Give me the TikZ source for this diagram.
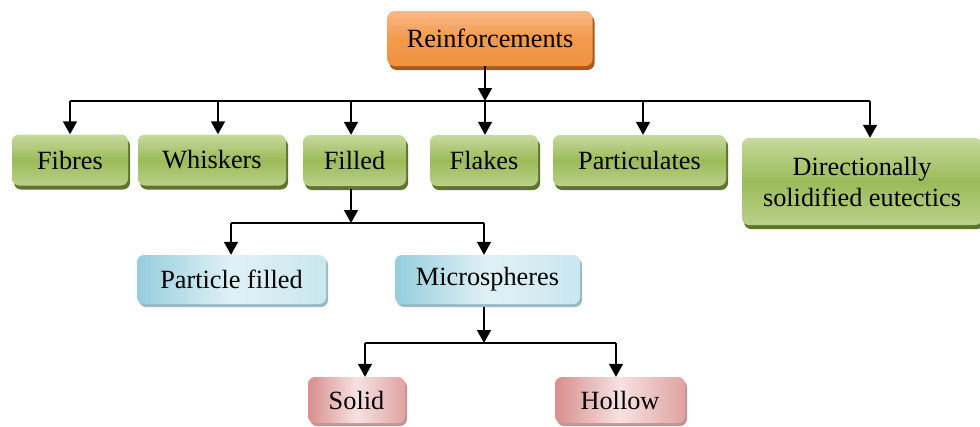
\documentclass[tikz,border=0pt]{standalone}
\usepackage{fontspec}
\setmainfont{Liberation Serif}
\usetikzlibrary{arrows.meta,shadows}
\definecolor{orA}{HTML}{F0923E}
\definecolor{orB}{HTML}{FAB888}
\definecolor{orS}{HTML}{A85A1E}
\definecolor{grA}{HTML}{9BBB59}
\definecolor{grB}{HTML}{C6DA9E}
\definecolor{grS}{HTML}{5E7530}
\definecolor{blA}{HTML}{96CEDD}
\definecolor{blB}{HTML}{E0F1F6}
\definecolor{blS}{HTML}{7FA9B6}
\definecolor{pkA}{HTML}{D88E8C}
\definecolor{pkB}{HTML}{F6E2E1}
\definecolor{pkS}{HTML}{B07A78}
\tikzset{
  box/.style={rounded corners=7pt, inner sep=0pt, align=center, text=black,
    font=\fontsize{26.3}{31}\selectfont},
  orbox/.style={box, top color=orB, bottom color=orA, middle color=orA!80!orB,
    drop shadow={shadow xshift=2pt, shadow yshift=-4pt, fill=orS, opacity=1}},
  grbox/.style={box, top color=grB, bottom color=grB!70!grA, middle color=grA,
    drop shadow={shadow xshift=2pt, shadow yshift=-4pt, fill=grS, opacity=1}},
  blbox/.style={box, left color=blA, right color=blB!70!blA, middle color=blB,
    drop shadow={shadow xshift=2pt, shadow yshift=-3pt, fill=blS, opacity=0.8}},
  pkbox/.style={box, left color=pkA, right color=pkA!75!pkB, middle color=pkB,
    drop shadow={shadow xshift=2pt, shadow yshift=-3pt, fill=pkS, opacity=0.8}},
  conn/.style={line width=1.5pt, black},
  arr/.style={conn, -{Triangle[width=14pt,length=13pt]}}
}
\begin{document}
\begin{tikzpicture}[x=1pt,y=-1pt]
\useasboundingbox (0,0) rectangle (980,426);
% nodes
\node[orbox, minimum width=205pt, minimum height=55pt] (reinf) at (490,38.5) {Reinforcements};
\node[grbox, minimum width=116pt, minimum height=51pt] (fibres) at (70,160) {Fibres};
\node[grbox, minimum width=148pt, minimum height=51pt] (whiskers) at (212,160) {Whiskers};
\node[grbox, minimum width=103pt, minimum height=51pt] (filled) at (354.5,160.5) {Filled};
\node[grbox, minimum width=108pt, minimum height=51pt] (flakes) at (484,160.5) {Flakes};
\node[grbox, minimum width=173pt, minimum height=51pt] (partic) at (639.5,160.5) {Particulates};
\node[grbox, minimum width=240pt, minimum height=87pt] (dir) at (862,181.5) {Directionally\\solidified eutectics};
\node[blbox, minimum width=189pt, minimum height=49pt] (pfilled) at (231.5,279.5) {Particle filled};
\node[blbox, minimum width=185pt, minimum height=49pt] (micro) at (487.5,279.5) {Microspheres};
\node[pkbox, minimum width=97pt, minimum height=46pt] (solid) at (356.5,400) {Solid};
\node[pkbox, minimum width=130pt, minimum height=46pt] (hollow) at (620,400) {Hollow};
% bus coordinates
\coordinate (b0) at (485,101);
\coordinate (bL) at (70,101);
\coordinate (bR) at (870,101);
\coordinate (a1) at (70,101);
\coordinate (a2) at (218,101);
\coordinate (a3) at (351,101);
\coordinate (a4) at (485,101);
\coordinate (a5) at (643,101);
\coordinate (a6) at (870,101);
\coordinate (c0) at (351,223);
\coordinate (cL) at (231,223);
\coordinate (cR) at (484,223);
\coordinate (d0) at (484,343);
\coordinate (dL) at (365,343);
\coordinate (dR) at (616,343);
% connectors
\draw[arr] (b0 |- reinf.south) -- (b0);
\draw[conn] (bL) -- (bR);
\draw[arr] (a1) -- (a1 |- fibres.north);
\draw[arr] (a2) -- (a2 |- whiskers.north);
\draw[arr] (a3) -- (a3 |- filled.north);
\draw[arr] (a4) -- (a4 |- flakes.north);
\draw[arr] (a5) -- (a5 |- partic.north);
\draw[arr] (a6) -- (a6 |- dir.north);
\draw[arr] (c0 |- filled.south) ++(0,3) -- (c0);
\draw[conn] (cL) -- (cR);
\draw[arr] (cL) -- (cL |- pfilled.north);
\draw[arr] (cR) -- (cR |- micro.north);
\draw[arr] (d0 |- micro.south) ++(0,3) -- (d0);
\draw[conn] (dL) -- (dR);
\draw[arr] (dL) -- (dL |- solid.north);
\draw[arr] (dR) -- (dR |- hollow.north);
\end{tikzpicture}
\end{document}
